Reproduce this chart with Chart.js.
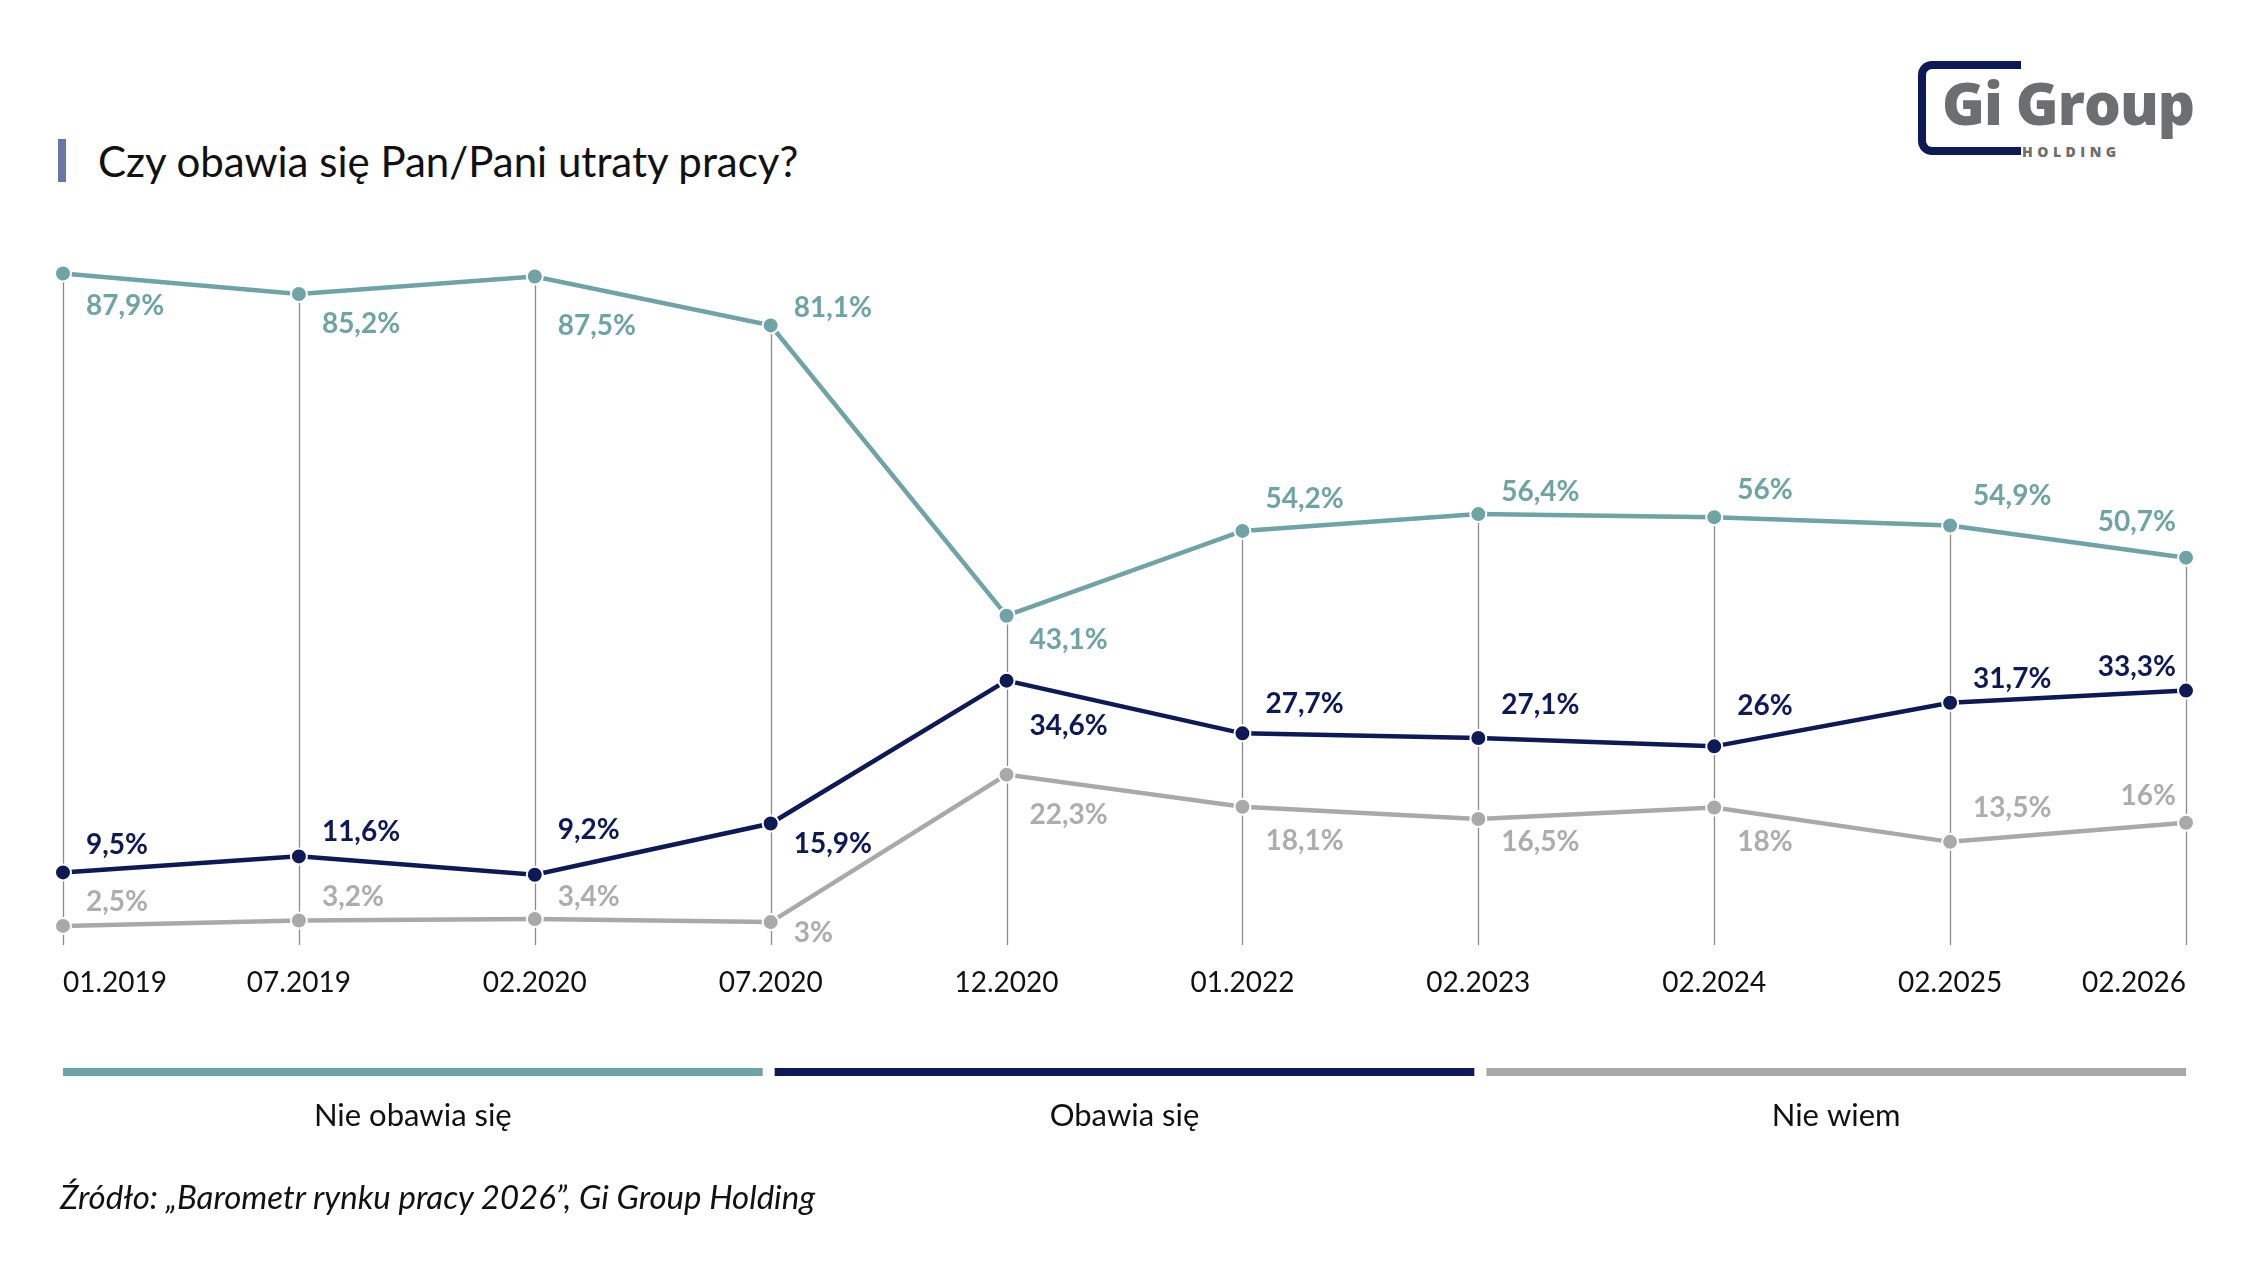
<!DOCTYPE html>
<html lang="pl">
<head>
<meta charset="utf-8">
<title>Czy obawia się Pan/Pani utraty pracy?</title>
<script src="https://cdn.jsdelivr.net/npm/chart.js@4.4.1/dist/chart.umd.min.js"></script>
<style>
  html, body { margin: 0; padding: 0; background: #fff; }
  body { width: 2251px; height: 1272px; position: relative; overflow: hidden; font-family: Lato, "Open Sans", sans-serif; }
  #chart { position: absolute; left: 0; top: 0; }
  .title { position: absolute; left: 98px; top: 135px; font-size: 42px; color: #111; line-height: 52px; }
  .title-bar { position: absolute; left: 58px; top: 139px; width: 8px; height: 43px; background: #6a77a0; }
  .source { position: absolute; left: 60px; top: 1176px; font-size: 33px; font-style: italic; color: #111; }
  .logo { position: absolute; left: 1918px; top: 61px; width: 280px; height: 96px; }
  .logo .bracket { position: absolute; left: 0; top: 0; width: 95px; height: 78px; border: 8px solid #0d1a55; border-right: none; border-radius: 14px 0 0 14px; }
  .logo .name { position: absolute; left: 24px; top: 6px; font-family: "Open Sans", sans-serif; font-weight: 800; font-size: 58px; color: #6d6e70; letter-spacing: -1px; line-height: 72px; }
  .logo .holding { position: absolute; left: 104px; top: 81px; font-family: "Open Sans", sans-serif; font-weight: 800; font-size: 14px; color: #6d6e70; letter-spacing: 4.5px; }
</style>
</head>
<body>
<div class="title-bar"></div>
<div class="title">Czy obawia się Pan/Pani utraty pracy?</div>
<div class="logo">
  <div class="bracket"></div>
  <div class="name">Gi Group</div>
  <div class="holding">HOLDING</div>
</div>
<canvas id="chart" width="2251" height="1272"></canvas>
<div class="source">Źródło: „Barometr rynku pracy 2026”, Gi Group Holding</div>
<script>
// Okresy badania
const periods = ['01.2019', '07.2019', '02.2020', '07.2020', '12.2020', '01.2022', '02.2023', '02.2024', '02.2025', '02.2026'];

// Odpowiedzi (%)
const nieObawia = [87.9, 85.2, 87.5, 81.1, 43.1, 54.2, 56.4, 56, 54.9, 50.7];
const obawia = [9.5, 11.6, 9.2, 15.9, 34.6, 27.7, 27.1, 26, 31.7, 33.3];
const nieWiem = [2.5, 3.2, 3.4, 3, 22.3, 18.1, 16.5, 18, 13.5, 16];

const seriesNames = ['Nie obawia się', 'Obawia się', 'Nie wiem'];
const colors = ['#6fa3a5', '#0d1a55', '#a9a9aa'];
const labelColors = ['#6fa3a5', '#0d1a55', '#adadad'];

// przesunięcie etykiet w pionie (px) względem punktu
const labelShift = [
  [33, 30, 49, -17, 24, -32, -22, -27, -30, -36],
  [-27, -24, -45, 20, 45, -29, -33, -40, -24, -24],
  [-24, -24, -22, 11, 40, 34, 23, 34, -34, -27]
];

const fmt = v => String(v).replace('.', ',') + '%';

// pionowe linie od najwyższego punktu do osi
const dropLines = {
  id: 'dropLines',
  beforeDatasetsDraw(chart) {
    const ctx = chart.ctx;
    const bottom = chart.chartArea.bottom;
    ctx.save();
    ctx.strokeStyle = '#8c8c8c';
    ctx.lineWidth = 1.3;
    periods.forEach((p, i) => {
      let top = bottom;
      chart.data.datasets.forEach((ds, d) => {
        const pt = chart.getDatasetMeta(d).data[i];
        if (pt.y < top) top = pt.y;
      });
      const x = Math.round(chart.getDatasetMeta(0).data[i].x) + 0.5;
      ctx.beginPath();
      ctx.moveTo(x, top);
      ctx.lineTo(x, bottom);
      ctx.stroke();
    });
    ctx.restore();
  }
};

// etykiety wartości
const valueLabels = {
  id: 'valueLabels',
  afterDatasetsDraw(chart) {
    const ctx = chart.ctx;
    ctx.save();
    ctx.font = 'bold 28px Lato';
    ctx.textBaseline = 'middle';
    chart.data.datasets.forEach((ds, d) => {
      const meta = chart.getDatasetMeta(d);
      ctx.fillStyle = labelColors[d];
      ds.data.forEach((v, i) => {
        const pt = meta.data[i];
        const last = i === ds.data.length - 1;
        ctx.textAlign = last ? 'right' : 'left';
        const x = last ? pt.x - 10 : pt.x + 23;
        ctx.fillText(fmt(v), x, pt.y + labelShift[d][i]);
      });
    });
    ctx.restore();
  }
};

// legenda z paskami pod wykresem
const barLegend = {
  id: 'barLegend',
  afterDraw(chart) {
    const ctx = chart.ctx;
    const { left, right } = chart.chartArea;
    const gap = 12;
    const w = (right - left - gap * 2) / 3;
    ctx.save();
    chart.data.datasets.forEach((ds, d) => {
      const x0 = left + d * (w + gap);
      ctx.fillStyle = colors[d];
      ctx.fillRect(x0, 1068, w, 8);
      ctx.fillStyle = '#111';
      ctx.font = '31px Lato';
      ctx.textAlign = 'center';
      ctx.textBaseline = 'middle';
      ctx.fillText(ds.label, x0 + w / 2, 1116);
    });
    ctx.restore();
  }
};

const datasets = [nieObawia, obawia, nieWiem].map((values, d) => ({
  label: seriesNames[d],
  data: values,
  borderColor: colors[d],
  backgroundColor: colors[d],
  borderWidth: 4.5,
  pointRadius: 8,
  pointBorderColor: '#fff',
  pointBorderWidth: 2,
  pointBackgroundColor: colors[d],
  tension: 0
}));

new Chart(document.getElementById('chart'), {
  type: 'line',
  data: { labels: periods, datasets: datasets },
  options: {
    responsive: false,
    animation: false,
    layout: { padding: { left: 63, right: 65, top: 181, bottom: 267 } },
    plugins: { legend: { display: false }, tooltip: { enabled: false } },
    scales: {
      y: { min: 0, max: 100, display: false },
      x: {
        offset: false,
        grid: { display: false, drawTicks: false },
        border: { display: false },
        afterFit: axis => { axis.height = 60; },
        ticks: {
          align: 'inner',
          padding: 21,
          color: '#111',
          font: { family: 'Lato', size: 28 },
          maxRotation: 0,
          autoSkip: false
        }
      }
    }
  },
  plugins: [dropLines, valueLabels, barLegend]
});
</script>
</body>
</html>
